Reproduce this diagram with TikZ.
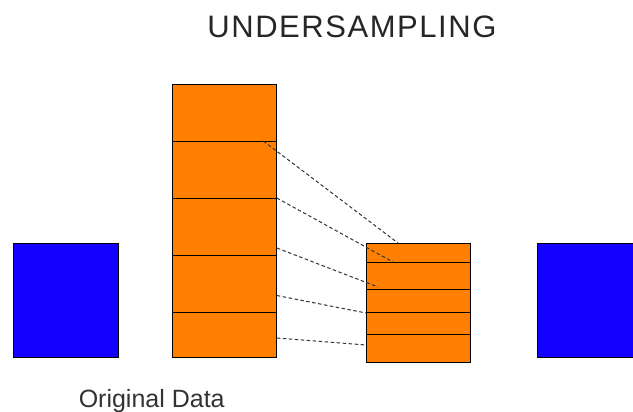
\documentclass[tikz,border=0pt]{standalone}
\usepackage{fontspec}
\setmainfont{Liberation Sans}
\usetikzlibrary{calc}

\definecolor{samporange}{HTML}{FF8000}
\definecolor{sampblue}{HTML}{1400FF}

\tikzset{
  cell/.style={draw, rectangle, fill=samporange, inner sep=0pt, outer sep=0pt, minimum width=104.5pt, anchor=north west, line width=0.8pt},
  datablock/.style={draw, rectangle, fill=sampblue, inner sep=0pt, outer sep=0pt, minimum width=105pt, minimum height=114pt, anchor=north west, line width=0.8pt},
  link/.style={dash pattern=on 3.5pt off 2.5pt, line width=1pt, black!80}
}

\begin{document}
\begin{tikzpicture}[x=1pt,y=-1pt]
\useasboundingbox (0,0) rectangle (633,412);

\draw node [datablock] (orig) at (13,243) {};
\draw node [datablock] (result) at (537,243) {};

% tall column
\draw node [cell, minimum height=57pt] (big1) at (172.3,84) {};
\draw node [cell, minimum height=57pt] (big2) at (172.3,141) {};
\draw node [cell, minimum height=57pt] (big3) at (172.3,198) {};
\draw node [cell, minimum height=57pt] (big4) at (172.3,255) {};
\draw node [cell, minimum height=45pt] (big5) at (172.3,312) {};

% short column
\draw node [cell, minimum height=19pt] (small1) at (366,243) {};
\draw node [cell, minimum height=27pt] (small2) at (366,262) {};
\draw node [cell, minimum height=23pt] (small3) at (366,289) {};
\draw node [cell, minimum height=22pt] (small4) at (366,312) {};
\draw node [cell, minimum height=28pt] (small5) at (366,334) {};

\draw[link] ($ (big2.north east)-(13.5,0) $) -- ($ (small1.north west)+(32,0) $);
\draw[link] (big3.north east) -- ($ (small2.north west)+(27,0) $);
\draw[link] ($ (big3.south east)+(0,-7) $) -- ($ (small2.south west)+(12,-2) $);
\draw[link] ($ (big4.east)+(0,12) $) -- ($ (small4.north west)+(0,1) $);
\draw[link] ($ (big5.east)+(0,3.5) $) -- ($ (small5.west)+(0,-3) $);

\draw node [anchor=base, inner sep=0pt, text=black!85] (title) at (352,38) {\fontsize{31}{31}\selectfont\addfontfeature{LetterSpace=5}UNDERSAMPLING};
\draw node [anchor=base, inner sep=0pt, text=black!80] (origlabel) at (151.7,407) {\fontsize{25}{25}\selectfont Original Data};

\end{tikzpicture}
\end{document}
